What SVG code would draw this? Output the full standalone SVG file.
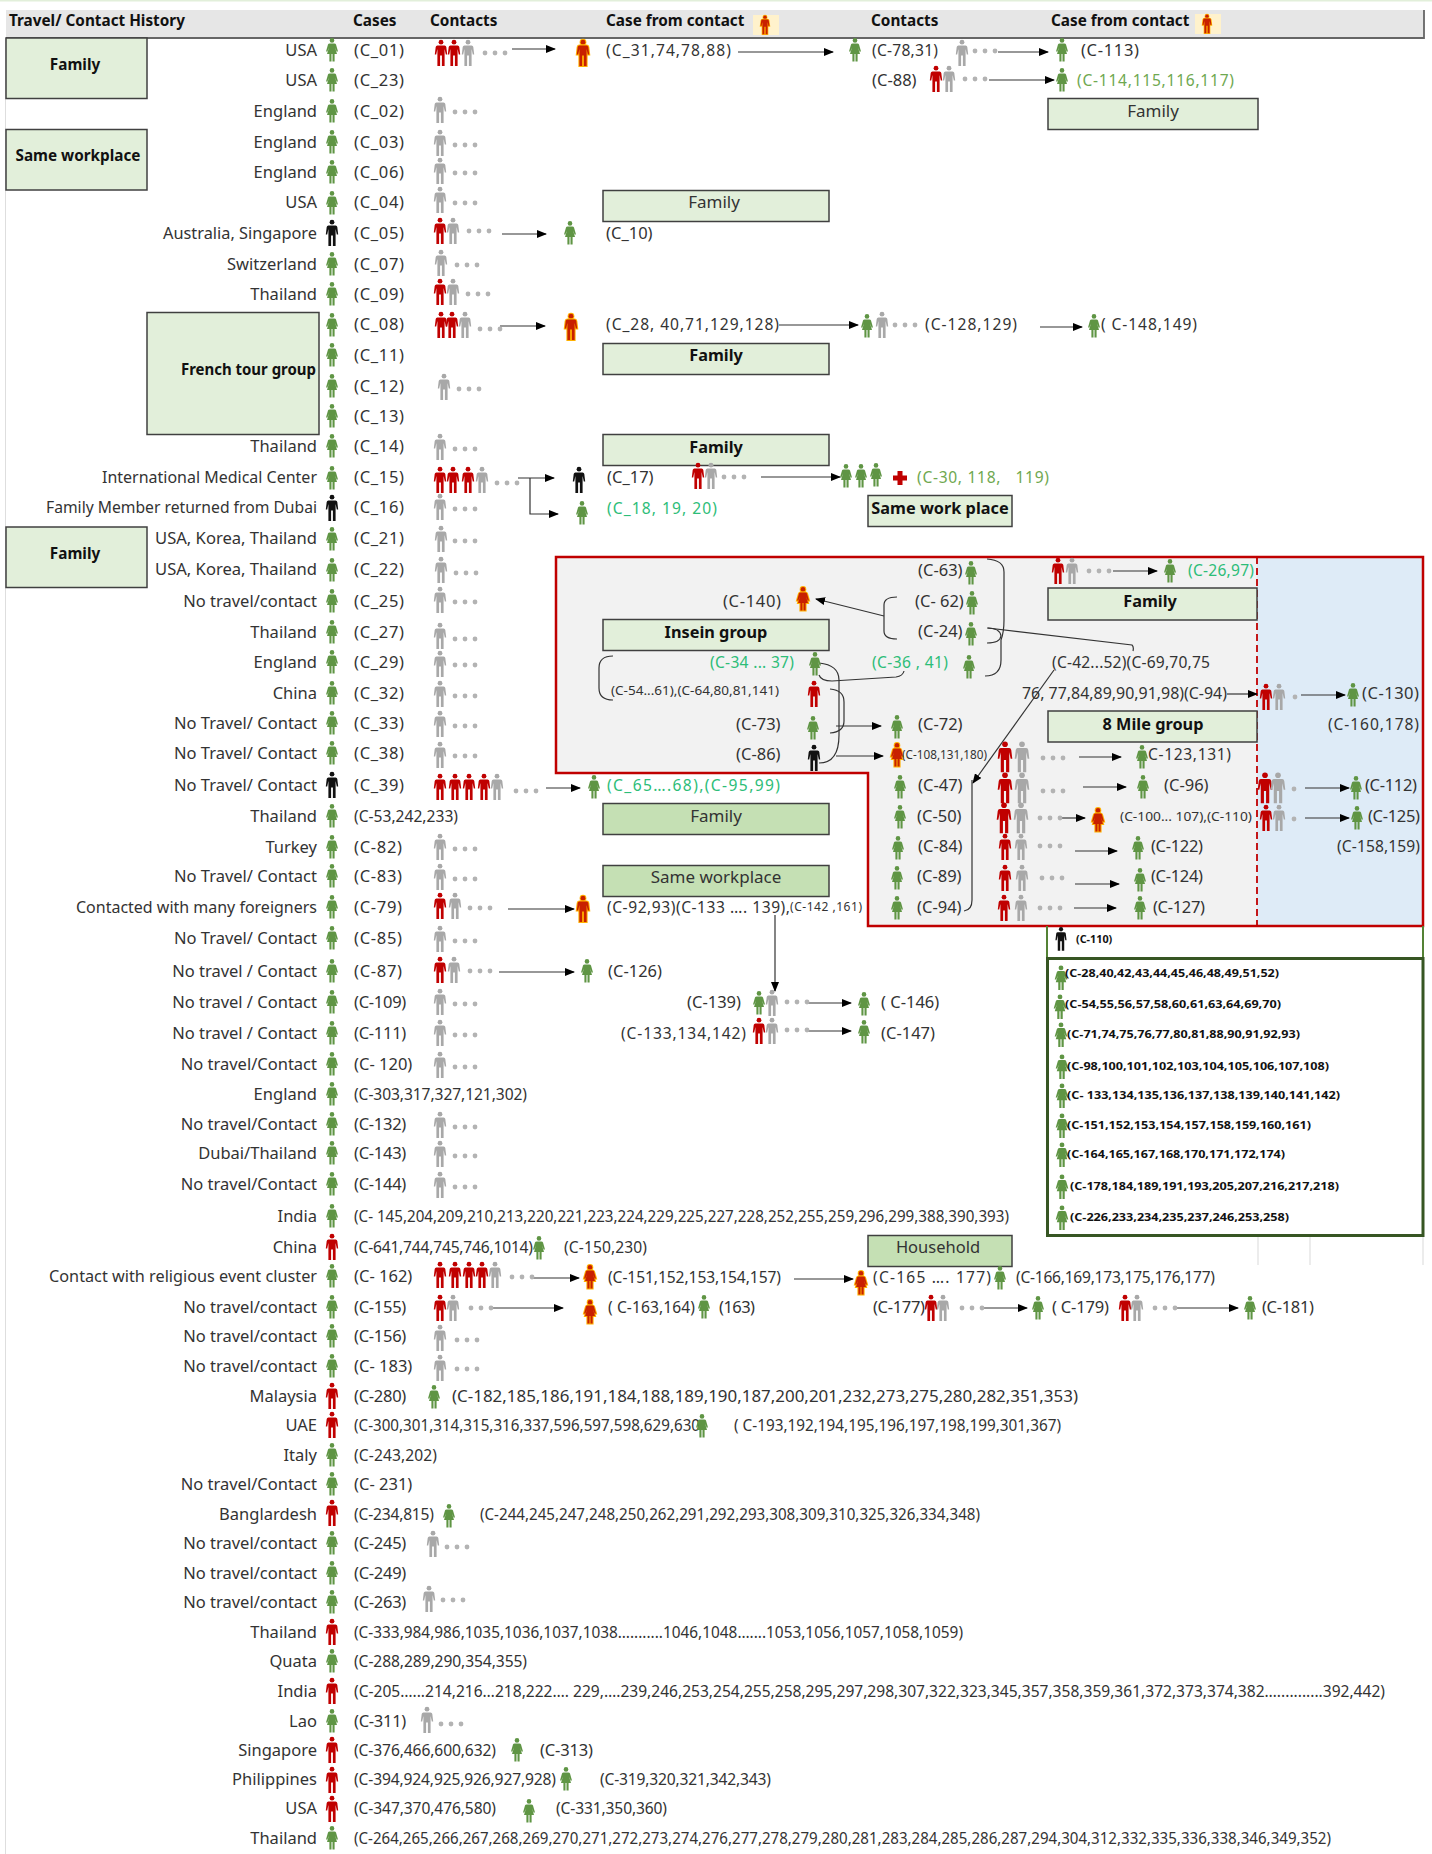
<svg xmlns="http://www.w3.org/2000/svg" width="1432" height="1854" viewBox="0 0 1432 1854">
<style>
text{font-family:"Noto Sans","Open Sans","Liberation Sans",sans-serif;font-size:16.5px;fill:#333;dominant-baseline:central;transform:translateY(-1.5px)}
text[x="354"]{letter-spacing:.7px}
.b{font-weight:700;fill:#111;font-size:15.3px}
.bb{font-weight:700;fill:#111;font-size:16.3px}
.n{font-size:17px}
.q,text.q[x="354"]{font-size:15.6px;letter-spacing:0}
.e{text-anchor:end}
.c{text-anchor:middle}
.lg{fill:#2dbd78}
.ol{fill:#6fa850}
.sm{font-size:12px}
.bx{font-size:10.8px;font-weight:700;fill:#111}
.g{fill:#5f9544}.r{fill:#c00000}.k{fill:#111}.a{fill:#a8a8a8}
.o{fill:#c82000;stroke:#ffb000;stroke-width:2px;paint-order:stroke}
.box{fill:#e2efda;stroke:#404040;stroke-width:1.5}
.box2{fill:#c5e0b4;stroke:#404040;stroke-width:1.5}
.l{fill:none;stroke:#333;stroke-width:1.2}
.ar{marker-end:url(#ah)}
</style>
<defs>
<marker id="ah" markerWidth="10" markerHeight="8" refX="9" refY="4" orient="auto" markerUnits="userSpaceOnUse"><path d="M0,0L10,4L0,8z" fill="#000"/></marker>
<g id="m"><circle cx="0" cy="-10.8" r="2.4"/><path d="M-3.6,-7.6H3.6Q5,-7.6 5.3,-6L6.2,1.5H4.8L3.6,-4V13H.9V2.5H-.9V13H-3.600V-4L-4.8,1.5H-6.2L-5.3,-6Q-5,-7.6 -3.6,-7.6Z"/></g>
<g id="w"><circle cx="0" cy="-9.6" r="2.3"/><path d="M-2.4,-6.6H2.4Q3.6,-6.6 4,-5.4L6,1.5H4.6L3,-2.5L5,4H2.6V11.5H.5V4H-.5V11.5H-2.6V4H-5L-3,-2.5L-4.6,1.5H-6L-4,-5.4Q-3.6,-6.6 -2.4,-6.6Z"/></g>
<g id="d" fill="#b3b3b3"><circle cx="0" cy="0" r="2.4"/><circle cx="10" cy="0" r="2.4"/><circle cx="20" cy="0" r="2.4"/></g>
<g id="mb"><use href="#m" transform="scale(1.18)"/></g>
</defs>
<rect width="1432" height="1854" fill="#fff"/>
<rect width="1432" height="1.5" fill="#e2efda"/>
<path d="M5.5,38V1854" stroke="#dedede" fill="none"/>
<g id="header">
<rect x="6" y="10" width="1418" height="28" fill="#e6e6e6"/>
<path d="M6,38H1424V10" fill="none" stroke="#666" stroke-width="1.800"/>
<text class="b" x="9" y="21">Travel/ Contact History</text>
<text class="b" x="353" y="21">Cases</text>
<text class="b" x="430" y="21">Contacts</text>
<text class="b" x="606" y="21">Case from contact</text>
<rect x="753" y="15" width="26" height="20" fill="#fff2cc"/><use href="#m" class="o" transform="translate(765,25) scale(.72)"/>
<text class="b" x="871" y="21">Contacts</text>
<text class="b" x="1051" y="21">Case from contact</text>
<rect x="1195" y="14" width="26" height="20" fill="#fff2cc"/><use href="#m" class="o" transform="translate(1207,24) scale(.72)"/>
</g>
<g id="group-boxes">
<g id="box-family-1"><rect class="box" x="6" y="38" width="141" height="60.500"/><text class="b c" x="75" y="65">Family</text></g>
<g id="box-same-workplace"><rect class="box" x="6" y="129.500" width="141" height="60.500"/><text class="b c" x="78" y="156">Same workplace</text></g>
<g id="box-french"><rect class="box" x="147" y="312.500" width="172" height="122"/><text class="b e" x="316" y="370" textLength="135" lengthAdjust="spacingAndGlyphs">French tour group</text></g>
<g id="box-family-2"><rect class="box" x="6" y="527" width="141" height="60.500"/><text class="b c" x="75" y="554">Family</text></g>
<g id="box-family-3"><rect class="box" x="603" y="190.500" width="226" height="31"/><text class="n c" x="714" y="203">Family</text></g>
<g id="box-family-4"><rect class="box" x="1048" y="98.500" width="210" height="31"/><text class="n c" x="1153" y="112">Family</text></g>
<g id="box-family-5"><rect class="box" x="603" y="343.500" width="226" height="31"/><text class="bb c" x="716" y="356">Family</text></g>
<g id="box-family-6"><rect class="box" x="603" y="434.500" width="226" height="31"/><text class="bb c" x="716" y="448">Family</text></g>
<g id="box-same-work-place"><rect class="box" x="868" y="495.500" width="144" height="31"/><text class="bb c" x="940" y="509">Same work place</text></g>
<g id="box-family-7"><rect class="box2" x="603" y="803.500" width="226" height="31"/><text class="n c" x="716" y="817">Family</text></g>
<g id="box-same-workplace-2"><rect class="box2" x="603" y="865.500" width="226" height="31"/><text class="n c" x="716" y="878">Same workplace</text></g>
<g id="box-household"><rect class="box2" x="868" y="1235.500" width="144" height="31"/><text class="c" x="938" y="1248">Household</text></g>
</g>
<g id="region-red">
<path d="M556,557H1257V926H868V773H556Z" fill="#f2f2f2"/>
<rect x="1257" y="557" width="166" height="369" fill="#deebf7"/>
<path d="M1257,557V926" stroke="#c00000" stroke-width="1.800" stroke-dasharray="7 4" fill="none"/>
<path d="M556,557H1423V926H868V773H556Z" fill="none" stroke="#c00000" stroke-width="2.500"/>
<g id="box-insein"><rect class="box" x="603" y="619.500" width="226" height="31"/><text class="bb c" x="716" y="633">Insein group</text></g>
<g id="box-family-8"><rect class="box" x="1048" y="588" width="209" height="32"/><text class="bb c" x="1150" y="602">Family</text></g>
<g id="box-8mile"><rect class="box" x="1048" y="711" width="209" height="31"/><text class="bb c" x="1153" y="725">8 Mile group</text></g>
</g>
<g id="region-green">
<path d="M1047,926V958M1423,926V958" stroke="#548235" stroke-width="2" fill="none"/>
<rect x="1047.500" y="958.500" width="375.500" height="277" fill="#fff" stroke="#375623" stroke-width="3"/>
<path d="M1258,1237V1265M1310,1237V1265M1423,1237V1265" stroke="#d9d9d9" fill="none"/>
<use href="#m" class="k" transform="translate(1061,939) scale(.9)"/><text class="bx" x="1076" y="940">(C-110)</text>
<use href="#w" class="g" transform="translate(1061,978) scale(1.05)"/><text class="bx" x="1065" y="974" textLength="214" lengthAdjust="spacingAndGlyphs">(C-28,40,42,43,44,45,46,48,49,51,52)</text>
<use href="#w" class="g" transform="translate(1060,1007) scale(1.05)"/><text class="bx" x="1065" y="1005" textLength="216" lengthAdjust="spacingAndGlyphs">(C-54,55,56,57,58,60,61,63,64,69,70)</text>
<use href="#w" class="g" transform="translate(1061,1035) scale(1.05)"/><text class="bx" x="1067" y="1035" textLength="233" lengthAdjust="spacingAndGlyphs">(C-71,74,75,76,77,80,81,88,90,91,92,93)</text>
<use href="#w" class="g" transform="translate(1062,1067) scale(1.05)"/><text class="bx" x="1067" y="1067" textLength="262" lengthAdjust="spacingAndGlyphs">(C-98,100,101,102,103,104,105,106,107,108)</text>
<use href="#w" class="g" transform="translate(1062,1096) scale(1.05)"/><text class="bx" x="1067" y="1096" textLength="273" lengthAdjust="spacingAndGlyphs">(C- 133,134,135,136,137,138,139,140,141,142)</text>
<use href="#w" class="g" transform="translate(1062,1126) scale(1.05)"/><text class="bx" x="1067" y="1126" textLength="244" lengthAdjust="spacingAndGlyphs">(C-151,152,153,154,157,158,159,160,161)</text>
<use href="#w" class="g" transform="translate(1062,1155) scale(1.05)"/><text class="bx" x="1067" y="1155" textLength="218" lengthAdjust="spacingAndGlyphs">(C-164,165,167,168,170,171,172,174)</text>
<use href="#w" class="g" transform="translate(1062,1187) scale(1.05)"/><text class="bx" x="1070" y="1187" textLength="269" lengthAdjust="spacingAndGlyphs">(C-178,184,189,191,193,205,207,216,217,218)</text>
<use href="#w" class="g" transform="translate(1062,1218) scale(1.05)"/><text class="bx" x="1070" y="1218" textLength="219" lengthAdjust="spacingAndGlyphs">(C-226,233,234,235,237,246,253,258)</text>
</g>
<g id="connectors">
<path class="l ar" d="M512,49H555"/><path class="l ar" d="M738,52H833"/><path class="l ar" d="M998,52H1048"/><path class="l ar" d="M989,80H1054"/>
<path class="l ar" d="M502,234H546"/><path class="l ar" d="M500,326H545"/><path class="l ar" d="M779,325H858"/><path class="l ar" d="M1040,327H1082"/>
<path class="l ar" d="M518,478H554"/><path class="l ar" d="M530,478V514H558"/><path class="l ar" d="M761,477H840"/>
<path class="l ar" d="M546,788H580"/><path class="l ar" d="M508,909H574"/><path class="l ar" d="M775,915V991"/><path class="l ar" d="M499,972H574"/>
<path class="l ar" d="M806,1003H851"/><path class="l ar" d="M806,1031H851"/>
<path class="l ar" d="M533,1278H579"/><path class="l ar" d="M794,1279H853"/><path class="l ar" d="M493,1308H563"/><path class="l ar" d="M980,1308H1027"/><path class="l ar" d="M1175,1308H1238"/>
<path class="l ar" d="M1113,571H1157"/><path class="l ar" d="M884,616L816,599"/>
<path class="l" d="M897,597Q884,597 884,605V631Q884,639 897,639"/>
<path class="l" d="M987,559Q1004,560 1004,572V620Q1004,632 1001,640V660Q1001,676 985,676"/>
<path class="l" d="M987,628Q1000,628 1001,636Q1000,643 987,643"/>
<path class="l" d="M988,628L1132,645Q1134,647 1133,651"/>
<path class="l" d="M819,663Q839,665 839,680V735Q839,763 819,763"/>
<path class="l" d="M819,675Q821,681 832,681L896,677Q903,676 904,671"/>
<path class="l" d="M613,656Q599,656 599,668V688Q599,700 613,700"/>
<path class="l" d="M830,689Q844,690 844,702V721Q844,732 830,733"/>
<path class="l ar" d="M836,726H881"/><path class="l ar" d="M836,756H883"/>
<path class="l ar" d="M1054,670L973,783"/><path class="l" d="M972,780V900Q972,910 964,911"/>
<path class="l ar" d="M1227,694H1257"/><path class="l ar" d="M1301,695H1345"/>
<path class="l ar" d="M1079,757H1121"/><path class="l ar" d="M1083,787H1126"/><path class="l ar" d="M1060,818H1085"/><path class="l ar" d="M1075,851H1117"/><path class="l ar" d="M1075,884H1119"/><path class="l ar" d="M1074,908H1116"/>
<path class="l ar" d="M1305,788H1349"/><path class="l ar" d="M1305,818H1349"/>
</g>
<g id="row-c01"><text class="e" x="317" y="51">USA</text><use href="#w" x="332" y="50" class="g"/><text x="354" y="51">(C_01)</text>
<use href="#m" x="441" y="53" class="r"/><use href="#m" x="454" y="53" class="r"/><use href="#m" x="468" y="53" class="a"/><use href="#d" x="485" y="53"/>
<use href="#m" x="583" y="53" class="o"/><text class="q" x="606" y="51" textLength="125">(C_31,74,78,88)</text><use href="#w" x="855" y="50" class="g"/><text class="q" x="872" y="51" textLength="66">(C-78,31)</text>
<use href="#m" x="962" y="53" class="a"/><use href="#d" x="975" y="51"/><use href="#w" x="1062" y="50" class="g"/><text x="1081" y="51" textLength="58">(C-113)</text></g>
<g id="row-c23"><text class="e" x="317" y="81">USA</text><use href="#w" x="332" y="80" class="g"/><text x="354" y="81">(C_23)</text>
<text x="872" y="81">(C-88)</text><use href="#m" x="936" y="79" class="r"/><use href="#m" x="949" y="79" class="a"/><use href="#d" x="965" y="79"/><use href="#w" x="1062" y="80" class="g"/><text class="ol q" x="1077" y="81" textLength="157">(C-114,115,116,117)</text></g>
<g id="row-c02"><text class="e" x="317" y="112">England</text><use href="#w" x="332" y="111" class="g"/><text x="354" y="112">(C_02)</text><use href="#m" x="440" y="110" class="a"/><use href="#d" x="455" y="112"/></g>
<g id="row-c03"><text class="e" x="317" y="143">England</text><use href="#w" x="332" y="142" class="g"/><text x="354" y="143">(C_03)</text><use href="#m" x="440" y="143" class="a"/><use href="#d" x="455" y="145"/></g>
<g id="row-c06"><text class="e" x="317" y="173">England</text><use href="#w" x="332" y="172" class="g"/><text x="354" y="173">(C_06)</text><use href="#m" x="440" y="171" class="a"/><use href="#d" x="455" y="173"/></g>
<g id="row-c04"><text class="e" x="317" y="203">USA</text><use href="#w" x="332" y="203" class="g"/><text x="354" y="203">(C_04)</text><use href="#m" x="440" y="200" class="a"/><use href="#d" x="455" y="203"/></g>
<g id="row-c05"><text class="e" x="317" y="234" textLength="154" lengthAdjust="spacingAndGlyphs">Australia, Singapore</text><use href="#m" x="332" y="233" class="k"/><text x="354" y="234">(C_05)</text>
<use href="#m" x="440" y="231" class="r"/><use href="#m" x="453" y="231" class="a"/><use href="#d" x="469" y="231"/><use href="#w" x="570" y="233" class="g"/><text x="606" y="234">(C_10)</text></g>
<g id="row-c07"><text class="e" x="317" y="265">Switzerland</text><use href="#w" x="332" y="264" class="g"/><text x="354" y="265">(C_07)</text><use href="#m" x="441" y="263" class="a"/><use href="#d" x="457" y="265"/></g>
<g id="row-c09"><text class="e" x="317" y="295">Thailand</text><use href="#w" x="332" y="294" class="g"/><text x="354" y="295">(C_09)</text><use href="#m" x="440" y="292" class="r"/><use href="#m" x="453" y="292" class="a"/><use href="#d" x="468" y="294"/></g>
<g id="row-c08"><use href="#w" x="332" y="325" class="g"/><text x="354" y="325">(C_08)</text>
<use href="#m" x="441" y="325" class="r"/><use href="#m" x="452" y="325" class="r"/><use href="#m" x="465" y="325" class="a"/><use href="#d" x="480" y="329"/>
<use href="#m" x="571" y="327" class="o"/><text class="q" x="606" y="325" textLength="173">(C_28, 40,71,129,128)</text><use href="#w" x="867" y="326" class="g"/><use href="#m" x="882" y="325" class="a"/><use href="#d" x="895" y="325"/><text class="q" x="925" y="325" textLength="92">(C-128,129)</text><use href="#w" x="1094" y="326" class="g"/><text class="q" x="1101" y="325" textLength="96">( C-148,149)</text></g>
<g id="row-c11"><use href="#w" x="332" y="355" class="g"/><text x="354" y="356">(C_11)</text></g>
<g id="row-c12"><use href="#w" x="332" y="386" class="g"/><text x="354" y="387">(C_12)</text><use href="#m" x="444" y="387" class="a"/><use href="#d" x="459" y="389"/></g>
<g id="row-c13"><use href="#w" x="332" y="416" class="g"/><text x="354" y="417">(C_13)</text></g>
<g id="row-c14"><text class="e" x="317" y="447">Thailand</text><use href="#w" x="332" y="446" class="g"/><text x="354" y="447">(C_14)</text><use href="#m" x="440" y="447" class="a"/><use href="#d" x="455" y="449"/></g>
<g id="row-c15"><text class="e" x="317" y="478" textLength="215" lengthAdjust="spacingAndGlyphs">International Medical Center</text><use href="#w" x="332" y="478" class="g"/><text x="354" y="478">(C_15)</text>
<use href="#m" x="440" y="480" class="r"/><use href="#m" x="453" y="480" class="r"/><use href="#m" x="468" y="480" class="r"/><use href="#m" x="482" y="480" class="a"/><use href="#d" x="497" y="483"/>
<use href="#m" x="579" y="480" class="k"/><text x="607" y="478">(C_17)</text><use href="#m" x="698" y="476" class="r"/><use href="#m" x="711" y="476" class="a"/><use href="#d" x="724" y="477"/>
<use href="#w" x="846" y="476" class="g"/><use href="#w" x="861" y="476" class="g"/><use href="#w" x="876" y="475" class="g"/><path d="M897.500,471h5v4.500h4.500v5h-4.500v4.500h-5v-4.500h-4.500v-5h4.500z" fill="#c00000"/><text class="ol q" x="917" y="478" textLength="132" xml:space="preserve">(C-30, 118,   119)</text></g>
<g id="row-c16"><text class="e" x="317" y="508" textLength="271" lengthAdjust="spacingAndGlyphs">Family Member returned from Dubai</text><use href="#m" x="332" y="508" class="k"/><text x="354" y="508">(C_16)</text><use href="#m" x="440" y="507" class="a"/><use href="#d" x="455" y="509"/>
<use href="#w" x="582" y="513" class="g"/><text class="lg q" x="607" y="509" textLength="110">(C_18, 19, 20)</text></g>
<g id="row-c21"><text class="e" x="317" y="539" textLength="162" lengthAdjust="spacingAndGlyphs">USA, Korea, Thailand</text><use href="#w" x="332" y="539" class="g"/><text x="354" y="539">(C_21)</text><use href="#m" x="441" y="539" class="a"/><use href="#d" x="455" y="541"/></g>
<g id="row-c22"><text class="e" x="317" y="570" textLength="162" lengthAdjust="spacingAndGlyphs">USA, Korea, Thailand</text><use href="#w" x="332" y="570" class="g"/><text x="354" y="570">(C_22)</text><use href="#m" x="441" y="570" class="a"/><use href="#d" x="456" y="573"/></g>
<g id="row-c25"><text class="e" x="317" y="602">No travel/contact</text><use href="#w" x="332" y="601" class="g"/><text x="354" y="602">(C_25)</text><use href="#m" x="440" y="600" class="a"/><use href="#d" x="455" y="602"/></g>
<g id="row-c27"><text class="e" x="317" y="633">Thailand</text><use href="#w" x="332" y="632" class="g"/><text x="354" y="633">(C_27)</text><use href="#m" x="440" y="636" class="a"/><use href="#d" x="455" y="639"/></g>
<g id="row-c29"><text class="e" x="317" y="663">England</text><use href="#w" x="332" y="662" class="g"/><text x="354" y="663">(C_29)</text><use href="#m" x="440" y="664" class="a"/><use href="#d" x="455" y="665"/></g>
<g id="row-c32"><text class="e" x="317" y="694">China</text><use href="#w" x="332" y="693" class="g"/><text x="354" y="694">(C_32)</text><use href="#m" x="440" y="694" class="a"/><use href="#d" x="455" y="696"/></g>
<g id="row-c33"><text class="e" x="317" y="724">No Travel/ Contact</text><use href="#w" x="332" y="723" class="g"/><text x="354" y="724">(C_33)</text><use href="#m" x="440" y="724" class="a"/><use href="#d" x="455" y="726"/></g>
<g id="row-c38"><text class="e" x="317" y="754">No Travel/ Contact</text><use href="#w" x="332" y="753" class="g"/><text x="354" y="754">(C_38)</text><use href="#m" x="440" y="755" class="a"/><use href="#d" x="455" y="756"/></g>
<g id="row-c39"><text class="e" x="317" y="786">No Travel/ Contact</text><use href="#m" x="332" y="785" class="k"/><text x="354" y="786">(C_39)</text>
<use href="#m" x="440" y="787" class="r"/><use href="#m" x="455" y="787" class="r"/><use href="#m" x="469" y="787" class="r"/><use href="#m" x="484" y="787" class="r"/><use href="#m" x="497" y="787" class="a"/><use href="#d" x="516" y="791"/>
<use href="#w" x="594" y="787" class="g"/><text class="lg q" x="607" y="786" textLength="173">(C_65….68),(C-95,99)</text></g>
<g id="row-c53"><text class="e" x="317" y="817">Thailand</text><use href="#w" x="332" y="816" class="g"/><text class="q" x="354" y="817" textLength="104">(C-53,242,233)</text></g>
<g id="row-c82"><text class="e" x="317" y="848">Turkey</text><use href="#w" x="332" y="847" class="g"/><text x="354" y="848">(C-82)</text><use href="#m" x="440" y="847" class="a"/><use href="#d" x="455" y="849"/></g>
<g id="row-c83"><text class="e" x="317" y="877">No Travel/ Contact</text><use href="#w" x="332" y="876" class="g"/><text x="354" y="877">(C-83)</text><use href="#m" x="440" y="877" class="a"/><use href="#d" x="455" y="879"/></g>
<g id="row-c79"><text class="e" x="317" y="908" textLength="241" lengthAdjust="spacingAndGlyphs">Contacted with many foreigners</text><use href="#w" x="332" y="907" class="g"/><text x="354" y="908">(C-79)</text>
<use href="#m" x="440" y="906" class="r"/><use href="#m" x="455" y="906" class="a"/><use href="#d" x="470" y="908"/><use href="#m" x="583" y="909" class="o"/>
<text class="q" x="607" y="908" textLength="183">(C-92,93)(C-133 …. 139),</text><text class="sm" x="790" y="908" textLength="72">(C-142 ,161)</text></g>
<g id="row-c85"><text class="e" x="317" y="939">No Travel/ Contact</text><use href="#w" x="332" y="938" class="g"/><text x="354" y="939">(C-85)</text><use href="#m" x="440" y="939" class="a"/><use href="#d" x="455" y="941"/></g>
<g id="row-c87"><text class="e" x="317" y="972">No travel / Contact</text><use href="#w" x="332" y="971" class="g"/><text x="354" y="972">(C-87)</text><use href="#m" x="440" y="970" class="r"/><use href="#m" x="454" y="970" class="a"/><use href="#d" x="470" y="971"/><use href="#w" x="587" y="971" class="g"/><text x="608" y="972">(C-126)</text></g>
<g id="row-c109"><text class="e" x="317" y="1003">No travel / Contact</text><use href="#w" x="332" y="1002" class="g"/><text x="354" y="1003" textLength="53">(C-109)</text><use href="#m" x="440" y="1002" class="a"/><use href="#d" x="455" y="1004"/>
<text x="687" y="1003">(C-139)</text><use href="#w" x="759" y="1003" class="g"/><use href="#m" x="772" y="1003" class="a"/><use href="#d" x="787" y="1002"/><use href="#w" x="864" y="1004" class="g"/><text x="881" y="1003">( C-146)</text></g>
<g id="row-c111"><text class="e" x="317" y="1034">No travel / Contact</text><use href="#w" x="332" y="1033" class="g"/><text x="354" y="1034" textLength="53">(C-111)</text><use href="#m" x="440" y="1033" class="a"/><use href="#d" x="455" y="1035"/>
<text class="q" x="621" y="1034" textLength="125">(C-133,134,142)</text><use href="#m" x="759" y="1031" class="r"/><use href="#m" x="772" y="1031" class="a"/><use href="#d" x="787" y="1030"/><use href="#w" x="864" y="1032" class="g"/><text x="881" y="1034">(C-147)</text></g>
<g id="row-c120"><text class="e" x="317" y="1065">No travel/Contact</text><use href="#w" x="332" y="1064" class="g"/><text x="354" y="1065" textLength="59">(C- 120)</text><use href="#m" x="440" y="1065" class="a"/><use href="#d" x="455" y="1067"/></g>
<g id="row-c303"><text class="e" x="317" y="1095">England</text><use href="#w" x="332" y="1094" class="g"/><text class="q" x="354" y="1095" textLength="173">(C-303,317,327,121,302)</text></g>
<g id="row-c132"><text class="e" x="317" y="1125">No travel/Contact</text><use href="#w" x="332" y="1124" class="g"/><text x="354" y="1125" textLength="53">(C-132)</text><use href="#m" x="440" y="1125" class="a"/><use href="#d" x="455" y="1127"/></g>
<g id="row-c143"><text class="e" x="317" y="1154">Dubai/Thailand</text><use href="#w" x="332" y="1153" class="g"/><text x="354" y="1154" textLength="53">(C-143)</text><use href="#m" x="440" y="1154" class="a"/><use href="#d" x="455" y="1156"/></g>
<g id="row-c144"><text class="e" x="317" y="1185">No travel/Contact</text><use href="#w" x="332" y="1184" class="g"/><text x="354" y="1185" textLength="53">(C-144)</text><use href="#m" x="440" y="1185" class="a"/><use href="#d" x="455" y="1187"/></g>
<g id="row-c145"><text class="e" x="317" y="1217">India</text><use href="#w" x="332" y="1216" class="g"/><text class="q" x="354" y="1217" textLength="655" lengthAdjust="spacingAndGlyphs">(C- 145,204,209,210,213,220,221,223,224,229,225,227,228,252,255,259,296,299,388,390,393)</text></g>
<g id="row-c641"><text class="e" x="317" y="1248">China</text><use href="#m" x="332" y="1247" class="r"/><text class="q" x="354" y="1248" textLength="179">(C-641,744,745,746,1014)</text><use href="#w" x="539" y="1248" class="g"/><text class="q" x="564" y="1248" textLength="83">(C-150,230)</text></g>
<g id="row-c162"><text class="e" x="317" y="1277" textLength="268" lengthAdjust="spacingAndGlyphs">Contact with religious event cluster</text><use href="#w" x="332" y="1276" class="g"/><text x="354" y="1277" textLength="59">(C- 162)</text>
<use href="#m" x="440" y="1275" class="r"/><use href="#m" x="455" y="1275" class="r"/><use href="#m" x="469" y="1275" class="r"/><use href="#m" x="482" y="1275" class="r"/><use href="#m" x="495" y="1275" class="a"/><use href="#d" x="512" y="1277"/>
<use href="#w" x="590" y="1277" class="o"/><text class="q" x="608" y="1278" textLength="173">(C-151,152,153,154,157)</text><use href="#w" x="861" y="1283" class="o"/><text class="q" x="873" y="1278" textLength="118">(C-165 …. 177)</text><use href="#w" x="1000" y="1278" class="g"/><text class="q" x="1016" y="1278" textLength="199">(C-166,169,173,175,176,177)</text></g>
<g id="row-c155"><text class="e" x="317" y="1308">No travel/contact</text><use href="#w" x="332" y="1307" class="g"/><text x="354" y="1308" textLength="53">(C-155)</text>
<use href="#m" x="440" y="1308" class="r"/><use href="#m" x="453" y="1308" class="a"/><use href="#d" x="471" y="1308"/><use href="#w" x="590" y="1312" class="o"/><text class="q" x="608" y="1308" textLength="87">( C-163,164)</text><use href="#w" x="704" y="1307" class="g"/><text x="719" y="1308" textLength="36">(163)</text>
<text x="873" y="1308" textLength="52">(C-177)</text><use href="#m" x="931" y="1308" class="r"/><use href="#m" x="943" y="1308" class="a"/><use href="#d" x="962" y="1308"/><use href="#w" x="1038" y="1308" class="g"/><text x="1052" y="1308" textLength="57">( C-179)</text>
<use href="#m" x="1125" y="1308" class="r"/><use href="#m" x="1137" y="1308" class="a"/><use href="#d" x="1155" y="1308"/><use href="#w" x="1250" y="1308" class="g"/><text x="1262" y="1308" textLength="52">(C-181)</text></g>
<g id="row-c156"><text class="e" x="317" y="1337">No travel/contact</text><use href="#w" x="332" y="1336" class="g"/><text x="354" y="1337" textLength="53">(C-156)</text><use href="#m" x="440" y="1338" class="a"/><use href="#d" x="457" y="1340"/></g>
<g id="row-c183"><text class="e" x="317" y="1367">No travel/contact</text><use href="#w" x="332" y="1366" class="g"/><text x="354" y="1367" textLength="59">(C- 183)</text><use href="#m" x="440" y="1368" class="a"/><use href="#d" x="457" y="1369"/></g>
<g id="row-c280"><text class="e" x="317" y="1397">Malaysia</text><use href="#m" x="332" y="1396" class="r"/><text x="354" y="1397" textLength="53">(C-280)</text><use href="#w" x="434" y="1397" class="g"/><text class="q" x="452" y="1397" textLength="626" lengthAdjust="spacingAndGlyphs">(C-182,185,186,191,184,188,189,190,187,200,201,232,273,275,280,282,351,353)</text></g>
<g id="row-c300"><text class="e" x="317" y="1426">UAE</text><use href="#m" x="332" y="1425" class="r"/><text class="q" x="354" y="1426" textLength="346" lengthAdjust="spacingAndGlyphs">(C-300,301,314,315,316,337,596,597,598,629,630</text><use href="#w" x="702" y="1426" class="g"/><text class="q" x="734" y="1426" textLength="327" lengthAdjust="spacingAndGlyphs">( C-193,192,194,195,196,197,198,199,301,367)</text></g>
<g id="row-c243"><text class="e" x="317" y="1456">Italy</text><use href="#w" x="332" y="1455" class="g"/><text class="q" x="354" y="1456" textLength="83">(C-243,202)</text></g>
<g id="row-c231"><text class="e" x="317" y="1485">No travel/Contact</text><use href="#w" x="332" y="1484" class="g"/><text x="354" y="1485" textLength="59">(C- 231)</text></g>
<g id="row-c234"><text class="e" x="317" y="1515">Banglardesh</text><use href="#m" x="332" y="1513" class="r"/><text class="q" x="354" y="1515" textLength="80">(C-234,815)</text><use href="#w" x="449" y="1516" class="g"/><text class="q" x="480" y="1515" textLength="500" lengthAdjust="spacingAndGlyphs">(C-244,245,247,248,250,262,291,292,293,308,309,310,325,326,334,348)</text></g>
<g id="row-c245"><text class="e" x="317" y="1544">No travel/contact</text><use href="#w" x="332" y="1543" class="g"/><text x="354" y="1544" textLength="53">(C-245)</text><use href="#m" x="433" y="1544" class="a"/><use href="#d" x="447" y="1547"/></g>
<g id="row-c249"><text class="e" x="317" y="1574">No travel/contact</text><use href="#w" x="332" y="1573" class="g"/><text x="354" y="1574" textLength="53">(C-249)</text></g>
<g id="row-c263"><text class="e" x="317" y="1603">No travel/contact</text><use href="#w" x="332" y="1602" class="g"/><text x="354" y="1603" textLength="53">(C-263)</text><use href="#m" x="429" y="1599" class="a"/><use href="#d" x="443" y="1600"/></g>
<g id="row-c333"><text class="e" x="317" y="1633">Thailand</text><use href="#m" x="332" y="1632" class="r"/><text class="q" x="354" y="1633" textLength="609" lengthAdjust="spacingAndGlyphs">(C-333,984,986,1035,1036,1037,1038…........1046,1048…....1053,1056,1057,1058,1059)</text></g>
<g id="row-c288"><text class="e" x="317" y="1662">Quata</text><use href="#w" x="332" y="1661" class="g"/><text class="q" x="354" y="1662" textLength="173">(C-288,289,290,354,355)</text></g>
<g id="row-c205"><text class="e" x="317" y="1692">India</text><use href="#m" x="332" y="1691" class="r"/><text class="q" x="354" y="1692" textLength="1031" lengthAdjust="spacingAndGlyphs">(C-205…...214,216…218,222…. 229,….239,246,253,254,255,258,295,297,298,307,322,323,345,357,358,359,361,372,373,374,382…...........392,442)</text></g>
<g id="row-c311"><text class="e" x="317" y="1722">Lao</text><use href="#w" x="332" y="1721" class="g"/><text x="354" y="1722" textLength="53">(C-311)</text><use href="#m" x="427" y="1720" class="a"/><use href="#d" x="441" y="1724"/></g>
<g id="row-c376"><text class="e" x="317" y="1751">Singapore</text><use href="#m" x="332" y="1750" class="r"/><text class="q" x="354" y="1751" textLength="142">(C-376,466,600,632)</text><use href="#w" x="517" y="1750" class="g"/><text x="540" y="1751" textLength="53">(C-313)</text></g>
<g id="row-c394"><text class="e" x="317" y="1780">Philippines</text><use href="#m" x="332" y="1780" class="r"/><text class="q" x="354" y="1780" textLength="202">(C-394,924,925,926,927,928)</text><use href="#w" x="566" y="1779" class="g"/><text class="q" x="600" y="1780" textLength="171">(C-319,320,321,342,343)</text></g>
<g id="row-c347"><text class="e" x="317" y="1809">USA</text><use href="#m" x="332" y="1809" class="r"/><text class="q" x="354" y="1809" textLength="142">(C-347,370,476,580)</text><use href="#w" x="529" y="1811" class="g"/><text class="q" x="556" y="1809" textLength="111">(C-331,350,360)</text></g>
<g id="row-c264"><text class="e" x="317" y="1839">Thailand</text><use href="#w" x="332" y="1838" class="g"/><text class="q" x="354" y="1839" textLength="977" lengthAdjust="spacingAndGlyphs">(C-264,265,266,267,268,269,270,271,272,273,274,276,277,278,279,280,281,283,284,285,286,287,294,304,312,332,335,336,338,346,349,352)</text></g>
<g id="red-region-nodes">
<g id="n-c26"><use href="#m" x="1058" y="571" class="r"/><use href="#m" x="1072" y="571" class="a"/><use href="#d" x="1089" y="571"/><use href="#w" x="1170" y="571" class="g"/><text class="lg q" x="1188" y="571" textLength="66">(C-26,97)</text></g>
<g id="n-c63"><text x="918" y="571">(C-63)</text><use href="#w" x="971" y="573" class="g"/></g>
<g id="n-c62"><text x="915" y="602">(C- 62)</text><use href="#w" x="972" y="603" class="g"/></g>
<g id="n-c24"><text x="918" y="632">(C-24)</text><use href="#w" x="971" y="634" class="g"/></g>
<g id="n-c140"><text x="723" y="602" textLength="58">(C-140)</text><use href="#w" x="803" y="599" class="o"/></g>
<g id="n-c34"><text class="lg q" x="710" y="663" textLength="84">(C-34 ... 37)</text><use href="#w" x="815" y="664" class="g"/></g>
<g id="n-c36"><text class="lg q" x="872" y="663" textLength="76">(C-36 , 41)</text><use href="#w" x="969" y="667" class="g"/></g>
<g id="n-c54"><text class="sm" x="611" y="692" textLength="168" lengthAdjust="spacingAndGlyphs">(C-54...61),(C-64,80,81,141)</text><use href="#m" x="814" y="694" class="r"/></g>
<g id="n-c73"><text x="736" y="725">(C-73)</text><use href="#w" x="813" y="728" class="g"/></g>
<g id="n-c86"><text x="736" y="755">(C-86)</text><use href="#m" x="814" y="758" class="k"/></g>
<g id="n-c72"><use href="#w" x="897" y="727" class="g"/><text x="918" y="725">(C-72)</text></g>
<g id="n-c108"><use href="#w" x="897" y="755" class="o"/><text class="sm" x="902" y="756" textLength="85" lengthAdjust="spacingAndGlyphs">(C-108,131,180)</text></g>
<g id="n-c42"><text class="q" x="1052" y="663" textLength="158">(C-42...52)(C-69,70,75</text></g>
<g id="n-c76"><text class="q" x="1022" y="694" textLength="205" lengthAdjust="spacingAndGlyphs">76, 77,84,89,90,91,98)(C-94)</text></g>
<g id="n-c130"><use href="#m" x="1266" y="697" class="r"/><use href="#m" x="1279" y="697" class="a"/><circle cx="1295" cy="697" r="2.400" fill="#b3b3b3"/><use href="#w" x="1353" y="695" class="g"/><text x="1362" y="694" textLength="57">(C-130)</text><text class="q" x="1328" y="725" textLength="91">(C-160,178)</text></g>
<g id="n-c47"><use href="#w" x="900" y="787" class="g"/><text x="918" y="786">(C-47)</text></g>
<g id="n-c50"><use href="#w" x="900" y="817" class="g"/><text x="917" y="817">(C-50)</text></g>
<g id="n-c84"><use href="#w" x="898" y="848" class="g"/><text x="918" y="847">(C-84)</text></g>
<g id="n-c89"><use href="#w" x="897" y="878" class="g"/><text x="917" y="877">(C-89)</text></g>
<g id="n-c94"><use href="#w" x="897" y="908" class="g"/><text x="917" y="908">(C-94)</text></g>
<g id="n-c123"><use href="#mb" x="1005" y="757" class="r"/><use href="#mb" x="1022" y="757" class="a"/><use href="#d" x="1043" y="758"/><use href="#w" x="1142" y="757" class="g"/><text class="q" x="1148" y="755" textLength="83">C-123,131)</text></g>
<g id="n-c96"><use href="#mb" x="1005" y="788" class="r"/><use href="#mb" x="1022" y="788" class="a"/><use href="#d" x="1043" y="791"/><use href="#w" x="1143" y="787" class="g"/><text x="1164" y="786">(C-96)</text></g>
<g id="n-c100"><use href="#mb" x="1004" y="818" class="r"/><use href="#mb" x="1021" y="818" class="a"/><use href="#d" x="1040" y="818"/><use href="#w" x="1098" y="820" class="o"/><text class="sm" x="1120" y="818" textLength="132" lengthAdjust="spacingAndGlyphs">(C-100... 107),(C-110)</text></g>
<g id="n-c122"><use href="#m" x="1005" y="847" class="r"/><use href="#m" x="1021" y="847" class="a"/><use href="#d" x="1040" y="846"/><use href="#w" x="1138" y="848" class="g"/><text x="1151" y="847" textLength="52">(C-122)</text></g>
<g id="n-c124"><use href="#m" x="1005" y="878" class="r"/><use href="#m" x="1022" y="878" class="a"/><use href="#d" x="1042" y="878"/><use href="#w" x="1140" y="880" class="g"/><text x="1151" y="877" textLength="52">(C-124)</text></g>
<g id="n-c127"><use href="#m" x="1004" y="908" class="r"/><use href="#m" x="1021" y="908" class="a"/><use href="#d" x="1040" y="908"/><use href="#w" x="1140" y="908" class="g"/><text x="1153" y="908" textLength="52">(C-127)</text></g>
<g id="n-c112"><use href="#mb" x="1265" y="788" class="r"/><use href="#mb" x="1278" y="788" class="a"/><circle cx="1294" cy="789" r="2.400" fill="#b3b3b3"/><use href="#w" x="1356" y="788" class="g"/><text x="1365" y="786" textLength="52">(C-112)</text></g>
<g id="n-c125"><use href="#m" x="1266" y="818" class="r"/><use href="#m" x="1279" y="818" class="a"/><circle cx="1294" cy="819" r="2.400" fill="#b3b3b3"/><use href="#w" x="1357" y="818" class="g"/><text x="1368" y="817" textLength="52">(C-125)</text><text class="q" x="1337" y="847" textLength="83">(C-158,159)</text></g>
</g>
</svg>
